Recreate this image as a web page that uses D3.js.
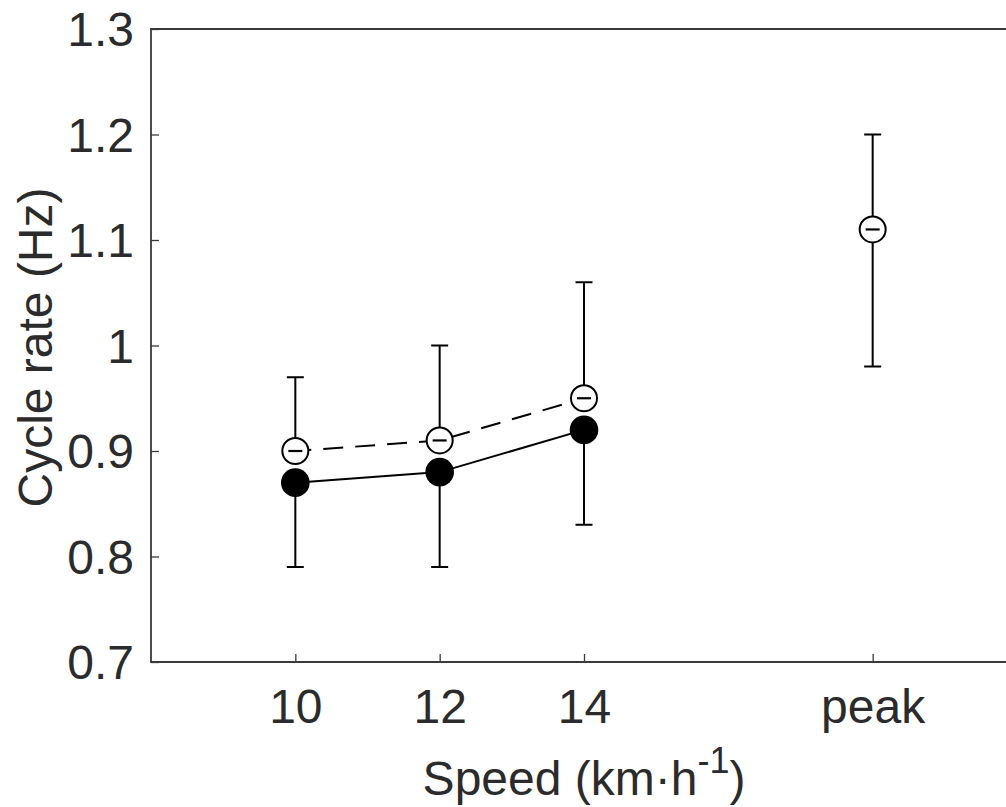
<!DOCTYPE html>
<html>
<head>
<meta charset="utf-8">
<script src="https://cdn.jsdelivr.net/npm/d3@7"></script>
<style>
  html, body { margin: 0; padding: 0; background: #fff; overflow: hidden; }
  svg { display: block; font-family: "Liberation Sans", Arial, sans-serif; }
</style>
</head>
<body>
<svg id="chart"></svg>
<script>
const width = 1006;
const height = 807;

// data
const speeds = [10, 12, 14];
const tickValues = [10, 12, 14, 18];
const tickLabels = ["10", "12", "14", "peak"];
const yTicks = [0.7, 0.8, 0.9, 1, 1.1, 1.2, 1.3];

const filledMean = [0.87, 0.88, 0.92];
const filledLower = [0.79, 0.79, 0.83];

const openMean = [0.90, 0.91, 0.95];
const openUpper = [0.97, 1.00, 1.06];

const peakX = [18];
const peakMean = [1.11];
const peakLower = [0.98];
const peakUpper = [1.20];

const ink = "#2b2b2b";
const axisCol = "#3a3a3a";

const x = d3.scaleLinear().domain([8, 20]).range([151, 1017]);
const y = d3.scaleLinear().domain([0.7, 1.3]).range([662, 29]);

const svg = d3.select("#chart")
    .attr("width", width)
    .attr("height", height)
    .attr("viewBox", [0, 0, width, height]);

// axes box (left, bottom, top)
svg.append("path")
    .attr("d", `M${x(20)},${y(1.3)}H${x(8)}V${y(0.7)}H${x(20)}`)
    .attr("fill", "none")
    .attr("stroke", axisCol)
    .attr("stroke-width", 1.8);

const xAxis = d3.axisBottom(x)
    .tickValues(tickValues)
    .tickSize(-8)
    .tickPadding(20)
    .tickFormat((d, i) => tickLabels[i]);

const yAxis = d3.axisLeft(y)
    .tickValues(yTicks)
    .tickSize(-8)
    .tickPadding(17)
    .tickFormat(d => d3.format("~g")(d));

const gx = svg.append("g")
    .attr("transform", `translate(0,${y(0.7)})`)
    .call(xAxis);
gx.select(".domain").remove();
gx.selectAll(".tick line").attr("stroke", axisCol).attr("stroke-width", 1.3);
gx.selectAll(".tick text")
    .attr("fill", ink)
    .attr("font-size", 48)
    .attr("dy", null)
    .attr("y", 61);

const gy = svg.append("g")
    .attr("transform", `translate(${x(8)},0)`)
    .call(yAxis);
gy.select(".domain").remove();
gy.selectAll(".tick line").attr("stroke", axisCol).attr("stroke-width", 1.3);
gy.selectAll(".tick text")
    .attr("fill", ink)
    .attr("font-size", 48)
    .attr("dy", "0.35em")
    .attr("x", -17);

// axis titles
svg.append("text")
    .attr("transform", `translate(52,${(y(0.7) + y(1.3)) / 2 + 2}) rotate(-90)`)
    .attr("text-anchor", "middle")
    .attr("fill", ink)
    .attr("font-size", 48)
    .text("Cycle rate (Hz)");

const xl = svg.append("text")
    .attr("x", (x(8) + x(20)) / 2)
    .attr("y", 795)
    .attr("text-anchor", "middle")
    .attr("fill", ink)
    .attr("font-size", 48);
xl.append("tspan").text("Speed (km\u00b7h");
xl.append("tspan").attr("font-size", 36).attr("dy", -22).text("-1");
xl.append("tspan").attr("dy", 22).text(")");

const capW = 8.5;
const bars = svg.append("g")
    .attr("stroke", "#000")
    .attr("stroke-width", 2)
    .attr("fill", "none");

function errBar(px, y0, y1) {
    bars.append("path")
        .attr("d", `M${px},${y(y0)}V${y(y1)}M${px - capW},${y(y1)}H${px + capW}`);
}

speeds.forEach((s, i) => {
    errBar(x(s), filledMean[i], filledLower[i]);
    errBar(x(s), openMean[i], openUpper[i]);
});
peakX.forEach((s, i) => {
    errBar(x(s), peakMean[i], peakUpper[i]);
    errBar(x(s), peakMean[i], peakLower[i]);
});

const line = d3.line().x(d => x(d[0])).y(d => y(d[1]));

svg.append("path")
    .datum(speeds.map((s, i) => [s, openMean[i]]))
    .attr("d", line)
    .attr("fill", "none")
    .attr("stroke", "#000")
    .attr("stroke-width", 2)
    .attr("stroke-dasharray", "20,12")
    .attr("stroke-dashoffset", 4);

svg.append("path")
    .datum(speeds.map((s, i) => [s, filledMean[i]]))
    .attr("d", line)
    .attr("fill", "none")
    .attr("stroke", "#000")
    .attr("stroke-width", 2);

// filled markers
svg.append("g")
    .selectAll("circle")
    .data(speeds.map((s, i) => [s, filledMean[i]]))
    .join("circle")
    .attr("cx", d => x(d[0]))
    .attr("cy", d => y(d[1]))
    .attr("r", 14.3)
    .attr("fill", "#000");

// open markers with a dash inside
const openPts = speeds.map((s, i) => [s, openMean[i]])
    .concat(peakX.map((s, i) => [s, peakMean[i]]));

const om = svg.append("g")
    .selectAll("g")
    .data(openPts)
    .join("g")
    .attr("transform", d => `translate(${x(d[0])},${y(d[1])})`);

om.append("circle")
    .attr("r", 13)
    .attr("fill", "#fff")
    .attr("stroke", "#000")
    .attr("stroke-width", 2);

om.append("line")
    .attr("x1", -7).attr("x2", 7)
    .attr("stroke", "#000")
    .attr("stroke-width", 2.2);
</script>
</body>
</html>
